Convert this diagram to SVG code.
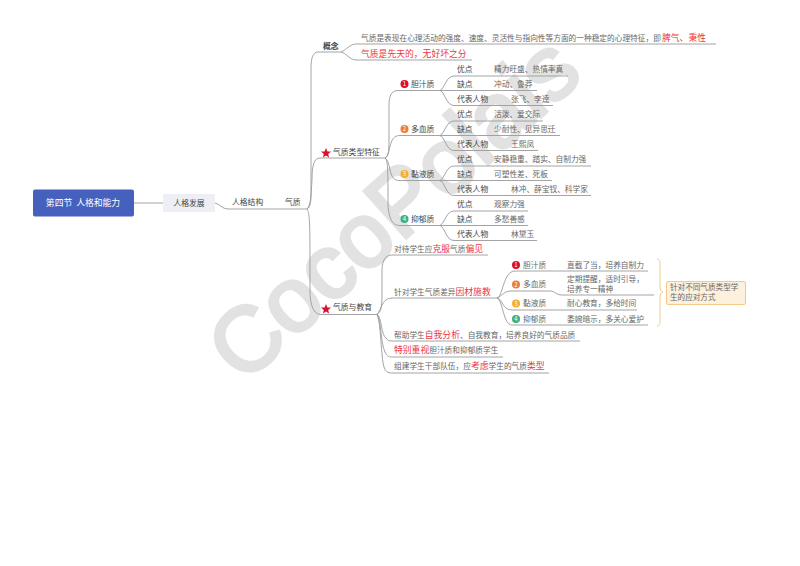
<svg xmlns="http://www.w3.org/2000/svg" width="800" height="566" viewBox="0 0 800 566">
<style>
text{font-family:"Noto Sans CJK SC","Liberation Sans",sans-serif;font-size:7.700px;fill:#666}
.c path{fill:none;stroke:#9a9a9a;stroke-width:.9}
.b{fill:#444;font-size:7.800px}
.r{fill:#ee3344;font-size:8.800px}
.wm{font-family:"Liberation Sans",sans-serif;font-size:91px;fill:#e2e2e2;stroke:#e2e2e2;stroke-width:3.500px}
.n{fill:#fff;font-size:6px;text-anchor:middle}
</style>
<defs><path id="star" d="M0-5 1.400-1.600 5-1.400 2.200.9 3.100 4.400 0 2.500-3.100 4.400-2.200.9-5-1.400-1.400-1.600Z" fill="#d8102c"/></defs>
<rect width="800" height="566" fill="#fff"/>
<text class="wm" transform="translate(243 385) rotate(-42)">CocoPolais</text>
<g class="c" id="connectors">
<path d="M134 203H163"/>
<path d="M215 203C220 204 222 209 228 209H307"/>
<path d="M307 209C311 207 311 200 311 190V68C311 58 313 52 318 52H341"/>
<path d="M307 209C311 205 311 195 312 180C312 165 314 158 320 158H385"/>
<path d="M307 209C310 214 310 222 310 290C310 306 314 314.500 321 314.500H377"/>
<path d="M341 52C346 50 350 44 356 44H716"/>
<path d="M341 52C346 53 350 60 356 60H472"/>
<path d="M385 158C389 156 389 150 389 135V105C389 95 392 90.500 398 90.500H440"/>
<path d="M385 158C389 156 389 148 391 143C393 137 396 135.500 400 135.500H440"/>
<path d="M385 158C388 160 389 165 390 170C392 178 394 180.500 400 180.500H440"/>
<path d="M385 158C388 160 388 170 388 205C389 220 393 225.500 400 225.500H440"/>
<path d="M440 90.500C445 88 446 76 454 76H568"/>
<path d="M440 90.500H537"/>
<path d="M440 90.500C445 92 446 105.500 454 105.500H553"/>
<path d="M440 135.500C445 133 446 121 454 121H543"/>
<path d="M440 135.500H560"/>
<path d="M440 135.500C445 137 446 150.500 454 150.500H538"/>
<path d="M440 180.500C445 178 446 166 454 166H591"/>
<path d="M440 180.500H552"/>
<path d="M440 180.500C445 182 446 195.500 454 195.500H591"/>
<path d="M440 225.500C445 223 446 211 454 211H528"/>
<path d="M440 225.500H528"/>
<path d="M440 225.500C445 227 446 240.500 454 240.500H537"/>
<path d="M377 314C382 312 382 304 382 290V270C382 260 386 255 392 255H488"/>
<path d="M377 314C381 312 381 298 392 298H497"/>
<path d="M377 314C382 318 381 335 386 338C388 341 390 341 393 341H580"/>
<path d="M377 314C381 320 381 345 385 352C387 357 390 357 393 357H503"/>
<path d="M377 314C381 322 381 358 384 367C386 373 389 373 393 373H549"/>
<path d="M497 298C503 297 503 271 515 271H648"/>
<path d="M497 298C502 296 504 291 511 291H550C555 291 556 295 562 295H654"/>
<path d="M497 298C503 299 502 310 512 310H637"/>
<path d="M497 298C503 300 503 325 512 325H648"/>
</g>
<g id="root"><rect x="33" y="189.500" width="101" height="27" rx="2" fill="#4661bd"/><text x="83" y="205.500" text-anchor="middle" xml:space="preserve" style="fill:#fff;font-size:8.800px">第四节  人格和能力</text></g>
<g id="n1"><rect x="163" y="194" width="52" height="18" rx="1" fill="#edeff4"/><text x="189" y="205.500" text-anchor="middle" class="b">人格发展</text></g>
<g id="n2"><text x="232" y="204.500" class="b">人格结构</text></g>
<g id="n3"><text x="285" y="204.500" class="b">气质</text></g>
<g id="gainian"><text x="323" y="48.500" class="b" style="font-weight:700">概念</text></g>
<g id="def1"><text x="361" y="40.500">气质是表现在心理活动的强度、速度、灵活性与指向性等方面的一种稳定的心理特征，即</text><text x="662" y="40.500" class="r">脾气、秉性</text></g>
<g id="def2"><text x="361" y="56.500" class="r">气质是先天的，无好坏之分</text></g>
<g id="tezheng"><use href="#star" x="326" y="153"/><text x="333" y="155" class="b">气质类型特征</text></g>
<g id="jiaoyu"><use href="#star" x="326" y="309"/><text x="333" y="310" class="b">气质与教育</text></g>
<g id="t1"><circle cx="404.500" cy="84" r="4" fill="#d8102c"/><text x="404.500" y="86.200" class="n">1</text><text x="411" y="87" class="b">胆汁质</text></g>
<g id="t2"><circle cx="404.500" cy="129" r="4" fill="#ee7d31"/><text x="404.500" y="131.200" class="n">2</text><text x="411" y="132" class="b">多血质</text></g>
<g id="t3"><circle cx="404.500" cy="174" r="4" fill="#f5b02a"/><text x="404.500" y="176.200" class="n">3</text><text x="411" y="177" class="b">黏液质</text></g>
<g id="t4"><circle cx="404.500" cy="219" r="4" fill="#3fae7a"/><text x="404.500" y="221.200" class="n">4</text><text x="411" y="222" class="b">抑郁质</text></g>
<g id="tr1"><text x="457" y="72" class="b">优点</text><text x="494" y="72">精力旺盛、热情率真</text><text x="457" y="87" class="b">缺点</text><text x="494" y="87">冲动、鲁莽</text><text x="457" y="102" class="b">代表人物</text><text x="511" y="102">张飞、李逵</text></g>
<g id="tr2"><text x="457" y="117" class="b">优点</text><text x="494" y="117">活泼、爱交际</text><text x="457" y="132" class="b">缺点</text><text x="494" y="132">少耐性、见异思迁</text><text x="457" y="147" class="b">代表人物</text><text x="511" y="147">王熙凤</text></g>
<g id="tr3"><text x="457" y="162" class="b">优点</text><text x="494" y="162">安静稳重、踏实、自制力强</text><text x="457" y="177" class="b">缺点</text><text x="494" y="177">可塑性差、死板</text><text x="457" y="192" class="b">代表人物</text><text x="511" y="192">林冲、薛宝钗、科学家</text></g>
<g id="tr4"><text x="457" y="207" class="b">优点</text><text x="494" y="207">观察力强</text><text x="457" y="222" class="b">缺点</text><text x="494" y="222">多愁善感</text><text x="457" y="237" class="b">代表人物</text><text x="511" y="237">林黛玉</text></g>
<g id="e1"><text x="394" y="252">对待学生应<tspan class="r">克服</tspan>气质<tspan class="r">偏见</tspan></text></g>
<g id="e2"><text x="394" y="295">针对学生气质差异<tspan class="r">因材施教</tspan></text></g>
<g id="e3"><text x="394" y="338">帮助学生<tspan class="r">自我分析</tspan>、自我教育，培养良好的气质品质</text></g>
<g id="e4"><text x="394" y="353"><tspan class="r">特别重视</tspan>胆汁质和抑郁质学生</text></g>
<g id="e5"><text x="394" y="369">组建学生干部队伍，应<tspan class="r">考虑</tspan>学生的气质<tspan class="r">类型</tspan></text></g>
<g id="m1"><circle cx="516" cy="265" r="4" fill="#d8102c"/><text x="516" y="267.200" class="n">1</text><text x="523" y="268">胆汁质</text><text x="567" y="268">直截了当，培养自制力</text></g>
<g id="m2"><circle cx="516" cy="284.500" r="4" fill="#ee7d31"/><text x="516" y="286.700" class="n">2</text><text x="523" y="287">多血质</text><text x="567" y="282">定期提醒，适时引导，</text><text x="567" y="292">培养专一精神</text></g>
<g id="m3"><circle cx="516" cy="303.500" r="4" fill="#f5b02a"/><text x="516" y="305.700" class="n">3</text><text x="523" y="306">黏液质</text><text x="567" y="306">耐心教育，多给时间</text></g>
<g id="m4"><circle cx="516" cy="319" r="4" fill="#3fae7a"/><text x="516" y="321.200" class="n">4</text><text x="523" y="322">抑郁质</text><text x="567" y="322">委婉暗示，多关心爱护</text></g>
<g id="brace"><path d="M657 259C660 259 660 262 660 266V287C660 290 661 291 663 292C661 293 660 294 660 297V319C660 324 660 326 657 326" fill="none" stroke="#f5c98a" stroke-width="1"/></g>
<g id="note"><rect x="666.500" y="281.500" width="79" height="23" rx="1.500" fill="#fdf0dc" stroke="#f5c98a"/><text x="670" y="290" style="font-size:7.600px">针对不同气质类型学</text><text x="670" y="300" style="font-size:7.600px">生的应对方式</text></g>
</svg>
